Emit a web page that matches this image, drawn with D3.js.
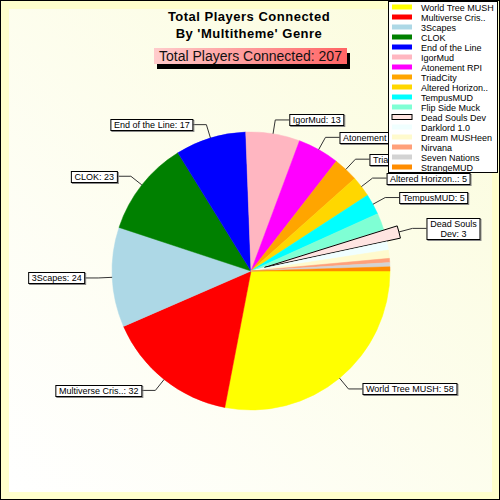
<!DOCTYPE html>
<html><head><meta charset="utf-8">
<script src="https://cdn.jsdelivr.net/npm/d3@7"></script>
<style>body{margin:0;background:#fff}svg{display:block}text{font-family:"Liberation Sans",Arial,sans-serif}</style>
</head><body>
<svg id="c" width="500" height="500"></svg>
<script>
const categories = ["World Tree MUSH","Multiverse Cris..","3Scapes","CLOK","End of the Line","IgorMud","Atonement RPI","TriadCity","Altered Horizon..","TempusMUD","Flip Side Muck","Dead Souls Dev","Darklord 1.0","Dream MUSHeen","Nirvana","Seven Nations","StrangeMUD"];
const values = [58,32,24,23,17,13,10,6,5,5,4,3,2,2,1,1,1];
const colors = ["#ffff00","#ff0000","#add8e6","#008000","#0000ff","#ffb6c1","#ff00ff","#ffa500","#ffd700","#00ffff","#7fffd4","#ffe4e1","#f0ffff","#fffacd","#ffa07a","#d3d3d3","#ff8c00"];
const labeled = ["World Tree MUSH","Multiverse Cris..","3Scapes","CLOK","End of the Line","IgorMud","Atonement RPI","TriadCity","Altered Horizon..","TempusMUD","Dead Souls Dev"];
const exploded = ["Dead Souls Dev"];
const titleLines = ["Total Players Connected","By 'Multitheme' Genre"];
const subtitleLabel = "Total Players Connected";

const svg = d3.select("#c");
const defs = svg.append("defs");
const bgG = defs.append("linearGradient").attr("id","bg").attr("x1","0").attr("y1","1").attr("x2","1").attr("y2","0");
bgG.append("stop").attr("offset","0").attr("stop-color","#ffffff");
bgG.append("stop").attr("offset","1").attr("stop-color","#fbfcdc");
const subG = defs.append("linearGradient").attr("id","sub").attr("x1","0").attr("y1","0").attr("x2","1").attr("y2","0");
subG.append("stop").attr("offset","0").attr("stop-color","#ffcccc");
subG.append("stop").attr("offset","1").attr("stop-color","#ff6464");

// background
svg.append("rect").attr("x",0.5).attr("y",0.5).attr("width",499).attr("height",499).attr("fill","#ffffcc").attr("stroke","#000");
svg.append("rect").attr("x",9).attr("y",9).attr("width",483).attr("height",483).attr("fill","url(#bg)");

// title
svg.append("g").selectAll("text").data(titleLines).join("text")
  .attr("x",249).attr("y",(d,i)=>21+i*16.5).attr("text-anchor","middle")
  .attr("font-size","13px").attr("font-weight","bold").attr("letter-spacing","0.5px").attr("fill","#000").text(d=>d);

const total = d3.sum(values);
svg.append("rect").attr("x",157).attr("y",53).attr("width",193).attr("height",16).attr("fill","#000");
svg.append("rect").attr("x",154).attr("y",48).attr("width",193).attr("height",16).attr("fill","url(#sub)");
svg.append("text").attr("x",250.5).attr("y",61).attr("text-anchor","middle").attr("font-size","14px").attr("fill","#111")
  .text(subtitleLabel + ": " + total);

// pie
const cx = 251, cy = 271, R = 139, EX = 14;
const data = categories.map((c,i)=>({name:c, value:values[i], color:colors[i]}));
const pie = d3.pie().sort(null).value(d=>d.value).startAngle(Math.PI/2).endAngle(Math.PI/2 + 2*Math.PI);
const arcs = pie(data);
const arc = d3.arc().innerRadius(0).outerRadius(R);
const pt = (a,r)=>[cx + r*Math.sin(a), cy - r*Math.cos(a)];
const gPie = svg.append("g");
arcs.forEach(d=>{
  const mid = (d.startAngle+d.endAngle)/2;
  const off = exploded.includes(d.data.name) ? EX : 0;
  const [tx,ty] = pt(mid, off);
  gPie.append("path").attr("d", arc(d)).attr("transform",`translate(${tx},${ty})`)
    .attr("fill", d.data.color)
    .attr("stroke", off ? "#000" : d.data.color).attr("stroke-width", off ? 1 : 0.5);
});

// labels
const gLab = svg.append("g");
arcs.filter(d=>labeled.includes(d.data.name)).forEach(d=>{
  const mid = (d.startAngle+d.endAngle)/2;
  const off = exploded.includes(d.data.name) ? EX : 0;
  const p1 = pt(mid, R+off), p2 = pt(mid, R+off+14);
  const side = Math.sin(mid) >= 0 ? 1 : -1;
  const p3 = [p2[0] + side*14, p2[1]];
  gLab.append("polyline").attr("points",[p1,p2,p3].map(p=>p.join(",")).join(" "))
    .attr("fill","none").attr("stroke","#333").attr("stroke-width",1);
  let full = d.data.name + ": " + d.data.value;
  const g = gLab.append("g");
  const t = g.append("text").attr("font-size","9px").attr("fill","#000").text(full);
  let w = t.node().getComputedTextLength();
  let lines = [full];
  if (side > 0 && p3[0] + w + 5 > 485) {
    const k = d.data.name.lastIndexOf(" ");
    lines = [d.data.name.slice(0,k), d.data.name.slice(k+1) + ": " + d.data.value];
    t.remove();
    w = 0;
    lines.forEach(l=>{
      const tt = g.append("text").attr("font-size","9px").text(l);
      w = Math.max(w, tt.node().getComputedTextLength()); tt.remove();
    });
  } else t.remove();
  const bw = Math.round(w + 6), bh = lines.length > 1 ? 21 : 11;
  const bx = side > 0 ? p3[0] : p3[0] - bw;
  const by = Math.round(p3[1] - bh/2);
  g.append("rect").attr("x",bx+1.5).attr("y",by+1.5).attr("width",bw).attr("height",bh).attr("fill","none").attr("stroke","#888");
  g.append("rect").attr("x",bx+0.5).attr("y",by+0.5).attr("width",bw).attr("height",bh).attr("fill","#fff").attr("stroke","#000");
  g.selectAll("text.l").data(lines).join("text").attr("class","l")
    .attr("x", bx + bw/2 + 0.5).attr("y",(l,i)=>by + 9 + i*10).attr("text-anchor","middle")
    .attr("font-size","9px").attr("fill","#000").text(l=>l);
});

// legend
const gLeg = svg.append("g");
gLeg.append("rect").attr("x",388.5).attr("y",1.5).attr("width",109).attr("height",171).attr("fill","#fff").attr("stroke","#000");
const rowY = i => 7 + i*10;
gLeg.selectAll("rect.sw").data(data).join("rect").attr("class","sw")
  .attr("x",392).attr("y",(d,i)=>rowY(i)-2.5).attr("width",20).attr("height",5)
  .attr("fill",d=>d.color).attr("stroke",d=>exploded.includes(d.name)?"#000":"none");
gLeg.selectAll("text").data(data).join("text")
  .attr("x",421).attr("y",(d,i)=>rowY(i)+3.5).attr("font-size","9px").attr("fill","#000").text(d=>d.name);
</script>
</body></html>
